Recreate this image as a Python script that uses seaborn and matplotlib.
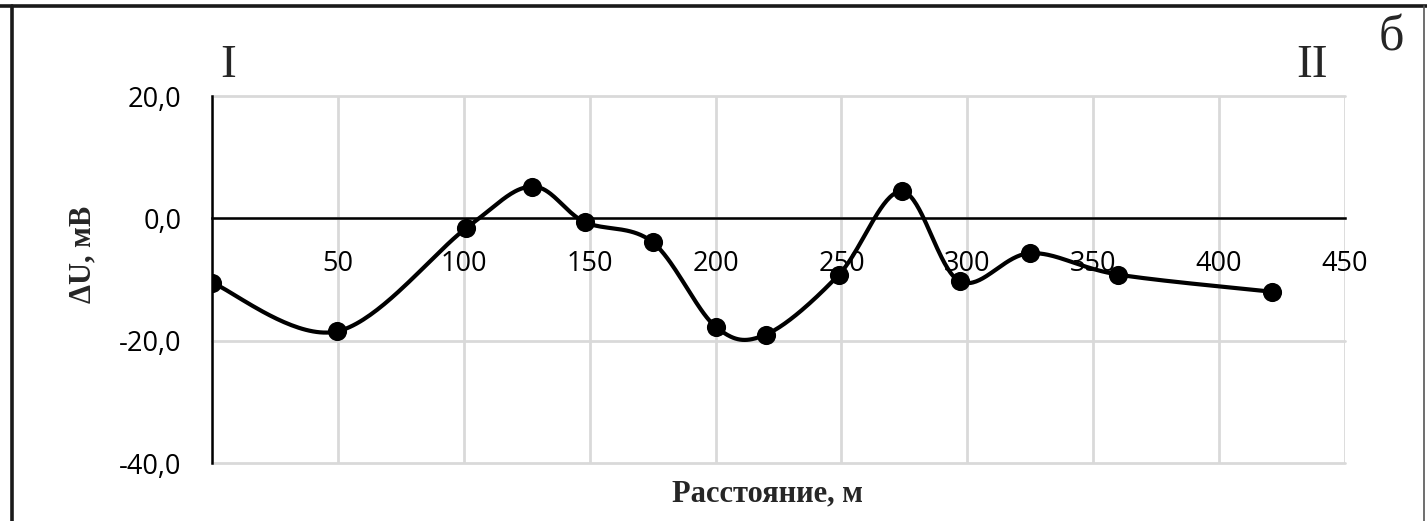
import numpy as np
import pandas as pd
import matplotlib
matplotlib.use("Agg")
import matplotlib.pyplot as plt
from matplotlib.lines import Line2D
import seaborn as sns

# Profile I–II: potential difference along the traverse
distance_m = [0, 49.5, 101, 127, 148, 175, 200, 220, 249, 274, 297, 325, 360, 421]
delta_u_mv = [-10.5, -18.5, -1.6, 5.2, -0.6, -3.9, -17.7, -19.0, -9.2, 4.4, -10.3, -5.7, -9.2, -12.0]

x_ticks = [50, 100, 150, 200, 250, 300, 350, 400, 450]
y_ticks = [-40, -20, 0, 20]
y_tick_labels = ["-40,0", "-20,0", "0,0", "20,0"]


def smooth_curve(xs, ys, steps=40):
    """Catmull-Rom smoothing through every point (like a spreadsheet 'smoothed line')."""
    p = np.column_stack([xs, ys]).astype(float)
    ext = np.vstack([p[0], p, p[-1]])
    out = []
    t = np.linspace(0, 1, steps, endpoint=False)[:, None]
    for i in range(1, len(ext) - 2):
        p0, p1, p2, p3 = ext[i - 1], ext[i], ext[i + 1], ext[i + 2]
        c1 = p1 + (p2 - p0) / 6.0
        c2 = p2 - (p3 - p1) / 6.0
        seg = ((1 - t) ** 3) * p1 + 3 * ((1 - t) ** 2) * t * c1 + 3 * (1 - t) * t ** 2 * c2 + t ** 3 * p2
        out.append(seg)
    out.append(p[-1][None, :])
    out = np.vstack(out)
    return out[:, 0], out[:, 1]


sns.set_style("white")
plt.rcParams["font.family"] = ["Open Sans", "DejaVu Sans"]

fig = plt.figure(figsize=(14.27, 5.21), dpi=100)
ax = fig.add_axes([212 / 1427, 1 - 463 / 521, 1133 / 1427, 367 / 521])

sx, sy = smooth_curve(distance_m, delta_u_mv)
curve = pd.DataFrame({"x": sx, "y": sy})
points = pd.DataFrame({"x": distance_m, "y": delta_u_mv})

sns.lineplot(data=curve, x="x", y="y", sort=False, estimator=None,
             color="black", linewidth=3.0, ax=ax, zorder=4)
sns.scatterplot(data=points, x="x", y="y", color="black", s=190,
                edgecolor="black", linewidth=0, ax=ax, zorder=5)

ax.set_xlim(0, 450)
ax.set_ylim(-40, 20)
ax.set_xticks([0] + x_ticks)
ax.set_xticklabels([""] + [str(v) for v in x_ticks])
ax.set_yticks(y_ticks)
ax.set_yticklabels(y_tick_labels)

# light grid, drawn over the frame edges
ax.grid(True, color="#d9d9d9", linewidth=2.0)
for gl in ax.get_xgridlines() + ax.get_ygridlines():
    gl.set_clip_on(False)
    gl.set_zorder(0.5)

for side in ["top", "right"]:
    ax.spines[side].set_visible(False)
ax.spines["left"].set_color("black")
ax.spines["left"].set_linewidth(1.8)
ax.spines["left"].set_zorder(3)
ax.spines["bottom"].set_position(("data", 0))
ax.spines["bottom"].set_color("black")
ax.spines["bottom"].set_linewidth(1.8)
ax.spines["bottom"].set_zorder(3)

ax.tick_params(axis="both", length=0, labelsize=19.5, colors="black")
ax.tick_params(axis="x", pad=23)
ax.tick_params(axis="y", pad=22)

serif = ["Liberation Serif", "DejaVu Serif"]
ax.set_xlabel("Расстояние, м", fontsize=22, fontweight="bold", family=serif)
ax.xaxis.label.set_verticalalignment("center")
ax.xaxis.set_label_coords((767 - 212) / 1133, (463 - 494) / 367)

ax.set_ylabel("ΔU, мВ", fontsize=22, fontweight="bold", family=serif)
ax.yaxis.label.set_verticalalignment("center")
ax.yaxis.set_label_coords((83 - 212) / 1133, (463 - 254) / 367)

# profile end marks and panel letter
fig.text(228 / 1427, 1 - 66 / 521, "I", fontsize=34, family=serif, ha="center", va="center")
fig.text(1312 / 1427, 1 - 66 / 521, "II", fontsize=34, family=serif, ha="center", va="center")
fig.text(1391 / 1427, 1 - 38 / 521, "б", fontsize=36, family=serif, ha="center", va="center")

# page frame lines
fig.add_artist(Line2D([12 / 1427, 12 / 1427], [0, 1 - 6 / 521], transform=fig.transFigure,
                      color="#1a1a1a", linewidth=2.6))
fig.add_artist(Line2D([0, 1], [1 - 6 / 521, 1 - 6 / 521], transform=fig.transFigure,
                      color="#1a1a1a", linewidth=2.6))
fig.add_artist(Line2D([1424 / 1427, 1424 / 1427], [0, 1 - 6 / 521], transform=fig.transFigure,
                      color="#555555", linewidth=1.2))

fig.savefig("out.png", dpi=100, facecolor="white")
